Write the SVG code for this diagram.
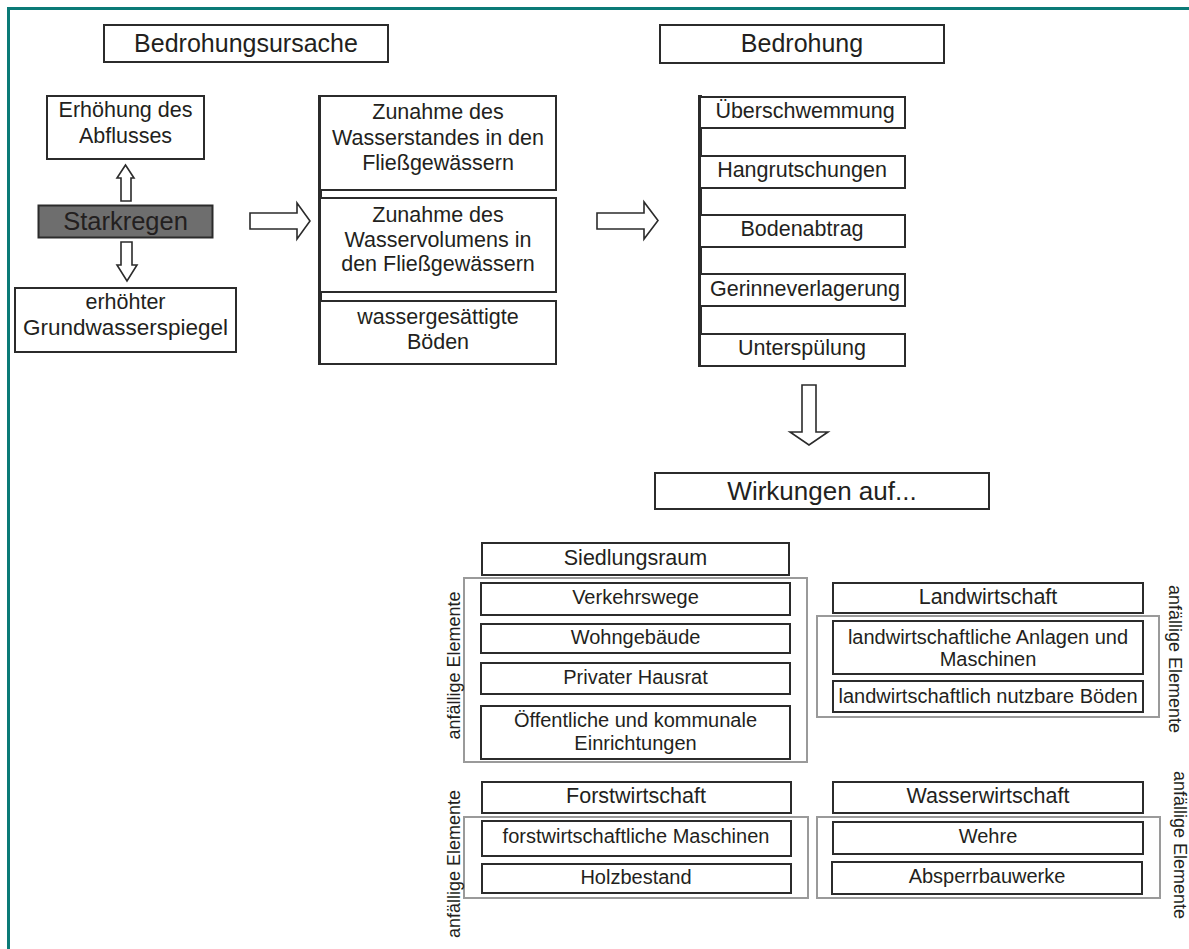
<svg xmlns="http://www.w3.org/2000/svg" width="1189" height="949" viewBox="0 0 1189 949">
<style>
text{font-family:"Liberation Sans",Arial,Helvetica,sans-serif;fill:#231f20;text-anchor:middle}
.b{fill:#fff;stroke:#2b2b2b;stroke-width:2}
.g{fill:none;stroke:#9a9a9a;stroke-width:2}
.ar{fill:#fff;stroke:#2b2b2b;stroke-width:1.6;stroke-linejoin:miter}
.bar{stroke:#2b2b2b;stroke-width:4}
.f21{font-size:21.5px}
.f20{font-size:20px}
.f24{font-size:25px}
.f25{font-size:25.5px}
.rot{font-size:18px}
</style>
<rect x="0" y="0" width="1189" height="949" fill="#fff"/>
<g id="frame">
<line x1="7" y1="8.5" x2="1189" y2="8.5" stroke="#0b7a77" stroke-width="3"/>
<line x1="8.5" y1="7" x2="8.5" y2="949" stroke="#0b7a77" stroke-width="3"/>
</g>
<g id="connectors">
<polygon class="ar" points="121,201 121,178 117,178 125.5,165 134,178 131,178 131,201"/>
<polygon class="ar" points="121,242 132,242 132,265 137,265 127,281 117,265 121,265"/>
<polygon class="ar" points="250,213 297,213 297,203 310,221 297,239 297,229 250,229"/>
<polygon class="ar" points="597,213 644,213 644,202 658,220.5 644,239 644,229 597,229"/>
<polygon class="ar" points="802,385 816,385 816,432 828,432 809,445 790,432 802,432"/>
</g>
<g id="n-bedrohungsursache"><rect class="b" x="104" y="25" width="284" height="37"/><text class="f24" x="246" y="52">Bedrohungsursache</text></g>
<g id="n-bedrohung"><rect class="b" x="660" y="25" width="284" height="38"/><text class="f24" x="802" y="52">Bedrohung</text></g>
<g id="n-abfluss"><rect class="b" x="47" y="96" width="157" height="63"/><text class="f21" x="125.5" y="117">Erhöhung des</text><text class="f21" x="125.5" y="143">Abflusses</text></g>
<g id="n-starkregen"><rect x="38.5" y="205.5" width="174" height="32" fill="#6e6e6e" stroke="#2b2b2b" stroke-width="2"/><text class="f25" x="125.5" y="230">Starkregen</text></g>
<g id="n-grundwasser"><rect class="b" x="15" y="288" width="221" height="64"/><text class="f21" x="125.5" y="309">erhöhter</text><text x="125.5" y="335" style="font-size:22.5px">Grundwasserspiegel</text></g>
<g id="n-ursachen">
<line class="bar" x1="320" y1="95" x2="320" y2="365"/>
<rect class="b" x="320" y="96" width="236" height="94"/>
<text class="f21" x="438" y="119">Zunahme des</text><text class="f21" x="438" y="145">Wasserstandes in den</text><text class="f21" x="438" y="170">Fließgewässern</text>
<rect class="b" x="320" y="198" width="236" height="94"/>
<text class="f21" x="438" y="222">Zunahme des</text><text class="f21" x="438" y="247">Wasservolumens in</text><text class="f21" x="438" y="271">den Fließgewässern</text>
<rect class="b" x="320" y="301" width="236" height="63"/>
<text class="f21" x="438" y="324">wassergesättigte</text><text class="f21" x="438" y="349">Böden</text>
</g>
<g id="n-bedrohungen">
<line class="bar" x1="700" y1="95" x2="700" y2="367"/>
<rect class="b" x="700" y="97" width="205" height="31"/><text class="f21" x="805" y="118">Überschwemmung</text>
<rect class="b" x="700" y="156" width="205" height="32"/><text class="f21" x="802" y="177">Hangrutschungen</text>
<rect class="b" x="700" y="215" width="205" height="32"/><text class="f21" x="802" y="236">Bodenabtrag</text>
<rect class="b" x="700" y="274" width="205" height="32"/><text class="f21" x="805" y="296">Gerinneverlagerung</text>
<rect class="b" x="700" y="334" width="205" height="32"/><text class="f21" x="802" y="355">Unterspülung</text>
</g>
<g id="n-wirkungen"><rect class="b" x="655" y="473" width="334" height="36"/><text x="822" y="500" style="font-size:26px">Wirkungen auf...</text></g>
<g id="n-siedlungsraum">
<rect class="b" x="482" y="543" width="307" height="32"/><text class="f21" x="635.5" y="565">Siedlungsraum</text>
<rect class="g" x="464" y="578" width="343" height="184"/>
<rect class="b" x="481" y="583" width="309" height="32"/><text class="f20" x="635.5" y="604">Verkehrswege</text>
<rect class="b" x="481" y="624" width="309" height="29"/><text class="f20" x="635.5" y="644">Wohngebäude</text>
<rect class="b" x="481" y="663" width="309" height="31"/><text class="f20" x="635.5" y="684">Privater Hausrat</text>
<rect class="b" x="481" y="706" width="309" height="53"/><text class="f20" x="635.5" y="727">Öffentliche und kommunale</text><text class="f20" x="635.5" y="750">Einrichtungen</text>
<text class="rot" transform="translate(460,665.5) rotate(-90)" x="0" y="0">anfällige Elemente</text>
</g>
<g id="n-landwirtschaft">
<rect class="b" x="833" y="583" width="310" height="30"/><text class="f21" x="988" y="604">Landwirtschaft</text>
<rect class="g" x="817" y="616" width="342" height="101"/>
<rect class="b" x="833" y="621" width="310" height="53"/><text class="f20" x="988" y="644">landwirtschaftliche Anlagen und</text><text class="f20" x="988" y="666">Maschinen</text>
<rect class="b" x="833" y="681" width="310" height="31"/><text class="f20" x="988" y="703">landwirtschaftlich nutzbare Böden</text>
<text class="rot" transform="translate(1169,659) rotate(90)" x="0" y="0">anfällige Elemente</text>
</g>
<g id="n-forstwirtschaft">
<rect class="b" x="482" y="782" width="309" height="31"/><text class="f21" x="636" y="803">Forstwirtschaft</text>
<rect class="g" x="464" y="817" width="344" height="81"/>
<rect class="b" x="482" y="821" width="309" height="35"/><text class="f20" x="636" y="843">forstwirtschaftliche Maschinen</text>
<rect class="b" x="482" y="864" width="309" height="29"/><text class="f20" x="636" y="884">Holzbestand</text>
<text class="rot" transform="translate(460,864) rotate(-90)" x="0" y="0">anfällige Elemente</text>
</g>
<g id="n-wasserwirtschaft">
<rect class="b" x="833" y="782" width="310" height="31"/><text class="f21" x="988" y="803">Wasserwirtschaft</text>
<rect class="g" x="817" y="817" width="343" height="81"/>
<rect class="b" x="833" y="822" width="310" height="32"/><text class="f20" x="988" y="843">Wehre</text>
<rect class="b" x="832" y="862" width="310" height="32"/><text class="f20" x="987" y="883">Absperrbauwerke</text>
<text class="rot" transform="translate(1174,845) rotate(90)" x="0" y="0">anfällige Elemente</text>
</g>
</svg>
